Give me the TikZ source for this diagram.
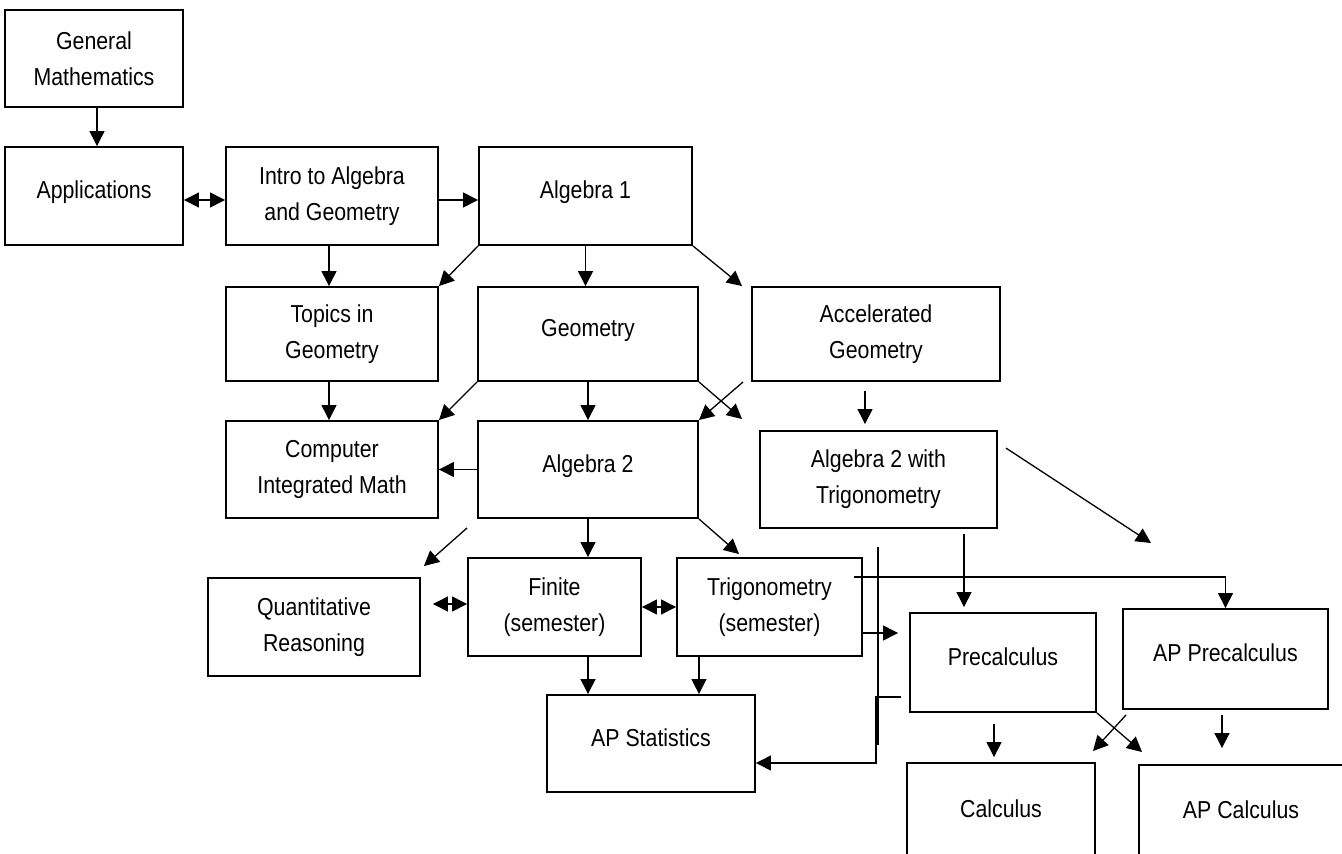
\documentclass[tikz,border=0pt]{standalone}
\usepackage{fontspec}
\setmainfont{Liberation Sans}[FakeStretch=0.87]
\usetikzlibrary{arrows.meta}
\begin{document}
\begin{tikzpicture}[x=1pt,y=-1pt,
  box/.style={draw, line width=1.9pt, align=center, inner sep=2pt, font=\fontsize{24.5}{36}\selectfont},
  oneline/.style={text height=18pt, text depth=12.5pt},
  conn/.style={line width=1.3pt, -{Triangle[length=15pt,width=15pt]}},
  dconn/.style={line width=1.3pt, {Triangle[length=15pt,width=15pt]}-{Triangle[length=15pt,width=15pt]}},
  plainline/.style={line width=1.3pt}]
\useasboundingbox (0,0) rectangle (1342,854);
\clip (0,0) rectangle (1342,854);
% boxes
\node[box, minimum width=178pt, minimum height=97pt] (gm) at (94,58.5) {General\\Mathematics};
\node[box, oneline, minimum width=178pt, minimum height=98pt] (app) at (94,196) {Applications};
\node[box, minimum width=212pt, minimum height=98pt] (intro) at (332,196) {Intro to Algebra\\and Geometry};
\node[box, oneline, minimum width=213pt, minimum height=98pt] (alg1) at (585.5,196) {Algebra 1};
\node[box, minimum width=212pt, minimum height=94pt] (topics) at (332,334) {Topics in\\Geometry};
\node[box, oneline, minimum width=220pt, minimum height=94pt] (geo) at (588,334) {Geometry};
\node[box, minimum width=248pt, minimum height=94pt] (acc) at (876,334) {Accelerated\\Geometry};
\node[box, minimum width=212pt, minimum height=97pt] (cim) at (332,469.5) {Computer\\Integrated Math};
\node[box, oneline, minimum width=220pt, minimum height=97pt] (alg2) at (588,469.5) {Algebra 2};
\node[box, minimum width=237pt, minimum height=97pt] (a2t) at (878.5,479.5) {Algebra 2 with\\Trigonometry};
\node[box, minimum width=212pt, minimum height=98pt] (quant) at (314,627) {Quantitative\\Reasoning};
\node[box, minimum width=173pt, minimum height=98pt] (finite) at (554.5,607) {Finite\\(semester)};
\node[box, minimum width=185pt, minimum height=98pt] (trig) at (769.5,607) {Trigonometry\\(semester)};
\node[box, oneline, minimum width=208pt, minimum height=97pt] (apstat) at (651,743.5) {AP Statistics};
\node[box, oneline, minimum width=186pt, minimum height=99pt] (precalc) at (1003,662.5) {Precalculus};
\node[box, oneline, minimum width=205pt, minimum height=100pt] (apprecalc) at (1225.5,659) {AP Precalculus};
\node[box, minimum width=188pt, minimum height=92pt] (calc) at (1001,809) {Calculus};
\node[box, minimum width=204pt, minimum height=90pt] (apcalc) at (1241,810) {AP Calculus};
% free coordinates
\coordinate (a2tend) at (1151,543);
\coordinate (vtop) at (878,547);
\coordinate (vbot) at (878,745);
% connectors
\draw[conn] ([xshift=3pt]gm.south) -- ([xshift=3pt]app.north);
\draw[dconn] ([yshift=-4pt]app.east) -- ([yshift=-4pt]intro.west);
\draw[conn] ([yshift=-4pt]intro.east) -- ([yshift=-4pt]alg1.west);
\draw[conn] ([xshift=-3pt]intro.south) -- ([xshift=-3pt]topics.north);
\draw[conn] (alg1.south west) -- (topics.north east);
\draw[conn] (alg1.south) -- (alg1.south |- geo.north);
\draw[conn] (alg1.south east) -- ([xshift=-9pt]acc.north west);
\draw[conn] ([xshift=-3pt]topics.south) -- ([xshift=-3pt]cim.north);
\draw[conn] (geo.south west) -- (cim.north east);
\draw[conn] (geo.south) -- (alg2.north);
\draw[conn] (geo.south east) -- ([xshift=-17pt,yshift=11pt]a2t.north west);
\draw[conn] ([xshift=-8pt]acc.south west) -- (alg2.north east);
\draw[conn] ([xshift=-11pt,yshift=-9pt]acc.south) -- ([xshift=-13.5pt,yshift=6pt]a2t.north);
\draw[conn] (alg2.west) -- (cim.east);
\draw[conn] ([xshift=8pt,yshift=-18pt]a2t.north east) -- (a2tend);
\draw[conn] ([xshift=-10pt,yshift=-9pt]alg2.south west) -- ([xshift=3pt,yshift=11pt]quant.north east);
\draw[conn] (alg2.south) -- (alg2.south |- finite.north);
\draw[conn] (alg2.south east) -- ([xshift=63pt,yshift=3pt]trig.north west);
\draw[dconn] ([xshift=12pt,yshift=23pt]quant.east) -- ([yshift=3pt]finite.west);
\draw[dconn] (finite.east) -- (trig.west);
\draw[conn] (finite.south -| alg2.south) -- (apstat.north -| alg2.south);
\draw[conn] (trig.south -| alg2.south east) -- (apstat.north -| alg2.south east);
\draw[conn] ([yshift=-26pt]trig.east) -- ([xshift=-11pt,yshift=29.5pt]precalc.west);
\draw[conn] ([xshift=85.5pt,yshift=-5pt]a2t.south) -- ([xshift=-39pt,yshift=5pt]precalc.north);
\draw[conn] ([xshift=-9pt,yshift=30pt]trig.east) -| (apprecalc.north);
\draw[plainline] (vtop) -- (vbot);
\draw[conn] ([xshift=-8pt,yshift=-34.5pt]precalc.west) -- ++(-25,0) |- ([yshift=-19.5pt]apstat.east);
\draw[conn] ([xshift=-9pt,yshift=-11pt]precalc.south) -- ([xshift=-7pt,yshift=5pt]calc.north);
\draw[conn] (precalc.south east) -- ([xshift=4pt,yshift=12pt]apcalc.north west);
\draw[conn] ([xshift=4pt,yshift=-5pt]apprecalc.south west) -- ([xshift=-3pt,yshift=11pt]calc.north east);
\draw[conn] ([xshift=-3.5pt,yshift=-5pt]apprecalc.south) -- ([xshift=-19pt,yshift=16pt]apcalc.north);
\end{tikzpicture}
\end{document}
